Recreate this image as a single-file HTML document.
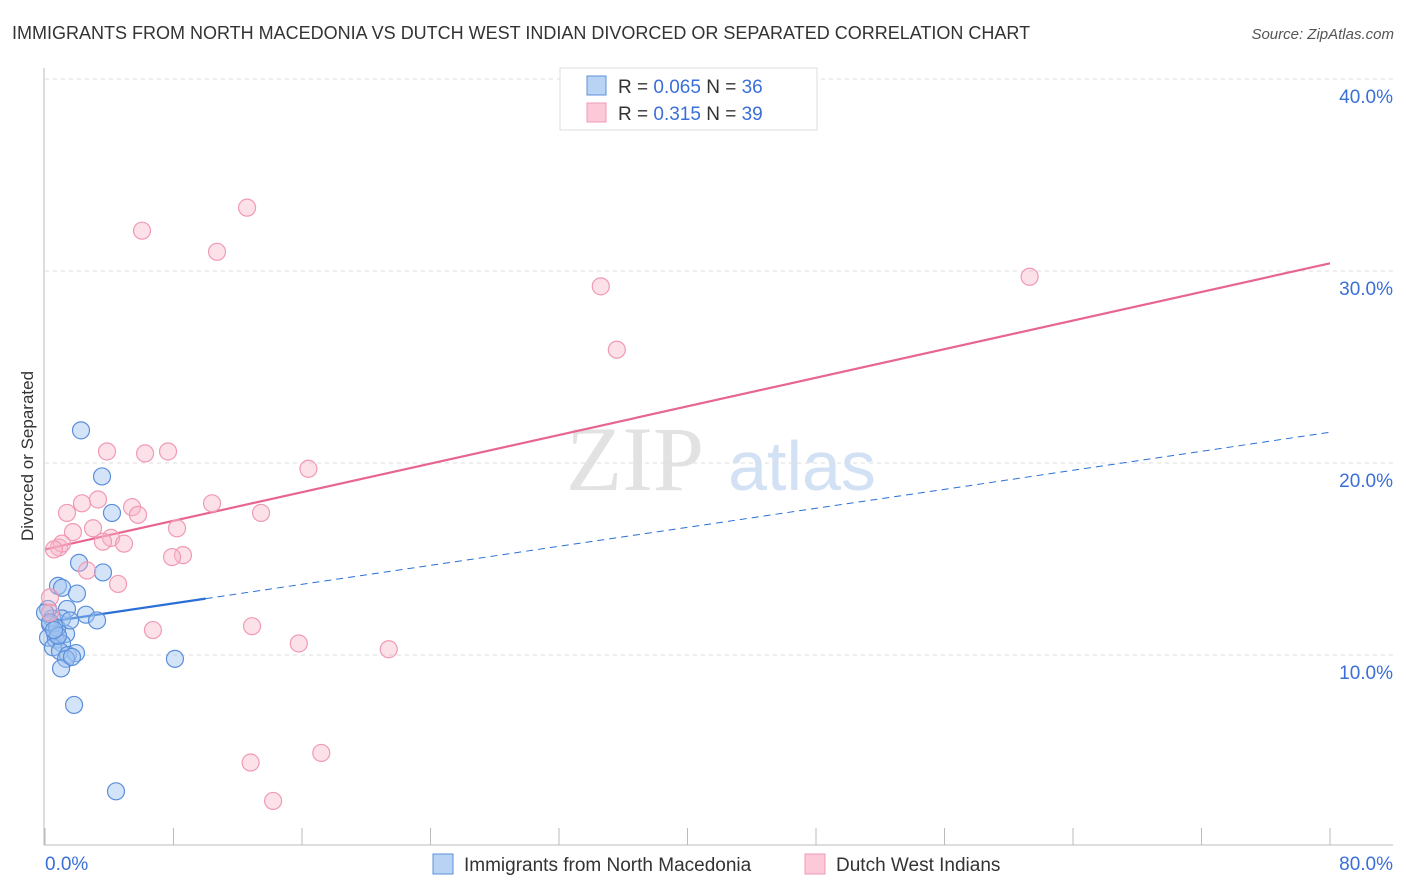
<!DOCTYPE html>
<html><head><meta charset="utf-8"><style>
body{margin:0;background:#fff;font-family:"Liberation Sans",sans-serif;}
#c{position:absolute;left:0;top:0}
</style></head><body>
<svg id="c" width="1406" height="892">
<text x="12" y="39" font-size="18" fill="#333">IMMIGRANTS FROM NORTH MACEDONIA VS DUTCH WEST INDIAN DIVORCED OR SEPARATED CORRELATION CHART</text>
<text x="1394" y="39" font-size="15" fill="#555" font-style="italic" text-anchor="end">Source: ZipAtlas.com</text>
<text x="33" y="456" font-size="17" fill="#333" text-anchor="middle" transform="rotate(-90 33 456)">Divorced or Separated</text>
<text x="635" y="490" font-size="92" fill="#e2e2e2" font-family="Liberation Serif,serif" text-anchor="middle">ZIP</text>
<text x="802" y="490" font-size="70" fill="#d3e1f5" text-anchor="middle">atlas</text>
<g id="grid"></g><g id="axes"></g><g id="lines"></g><g id="pts"></g>
<g>
<rect x="560" y="68" width="257" height="62" fill="#fff" stroke="#ddd"/>
<rect x="587" y="76" width="19" height="19" fill="#b9d3f5" stroke="#5b8fdb"/>
<rect x="587" y="103" width="19" height="19" fill="#fbc9d7" stroke="#f09ab5"/>
<text x="618" y="93" font-size="19" fill="#333">R = <tspan fill="#3a6fd8">0.065</tspan>   N = <tspan fill="#3a6fd8">36</tspan></text>
<text x="618" y="120" font-size="19" fill="#333">R =  <tspan fill="#3a6fd8">0.315</tspan>   N = <tspan fill="#3a6fd8">39</tspan></text>
</g>
<g>
<rect x="433" y="854" width="20" height="20" fill="#b9d3f5" stroke="#5b8fdb"/>
<text x="464" y="871" font-size="19" fill="#333">Immigrants from North Macedonia</text>
<rect x="805" y="854" width="20" height="20" fill="#fbc9d7" stroke="#f09ab5"/>
<text x="836" y="871" font-size="19" fill="#333">Dutch West Indians</text>
</g>
</svg>
<script>
const blueX=[2.24,3.55,4.17,2.12,3.61,0.81,1.06,1.99,0.19,1.37,2.55,3.24,0.44,1.06,0.31,0.62,1.31,0.19,0.68,1.06,0.50,0.93,1.43,1.93,1.31,8.09,1.00,1.81,4.42,0.0,0.31,0.75,1.56,0.81,0.56,1.68];
const blueY=[21.7,19.3,17.4,14.8,14.3,13.6,13.5,13.2,12.4,12.4,12.1,11.8,11.9,11.9,11.6,11.1,11.1,10.9,10.8,10.6,10.4,10.2,10.0,10.1,9.8,9.8,9.3,7.4,2.9,12.2,11.7,11.4,11.8,11.0,11.3,9.9];
const pinkX=[12.58,6.04,10.71,34.6,61.3,35.6,3.86,6.23,7.66,16.4,3.30,2.30,10.4,1.37,5.42,5.79,13.45,2.99,8.22,1.74,4.11,3.61,4.92,0.87,1.06,0.56,8.59,7.91,2.62,4.55,0.31,0.31,6.72,12.89,15.8,21.4,17.2,12.8,14.2];
const pinkY=[33.3,32.1,31.0,29.2,29.7,25.9,20.6,20.5,20.6,19.7,18.1,17.9,17.9,17.4,17.7,17.3,17.4,16.6,16.6,16.4,16.1,15.9,15.8,15.6,15.8,15.5,15.2,15.1,14.4,13.7,13.0,12.2,11.3,11.5,10.6,10.3,4.9,4.4,2.4];
const blueTrend=[11.7,21.6];
const pinkTrend=[15.5,30.4];
const yTicks=[10,20,30,40];
const yTickLabels=["10.0%","20.0%","30.0%","40.0%"];
const xTicks=[0,8,16,24,32,40,48,56,64,72,80];
const NS="http://www.w3.org/2000/svg";
const X=v=>45+v*(1285/80), Y=v=>847-v*19.2;
function mk(p,t,a){const e=document.createElementNS(NS,t);for(const k in a)e.setAttribute(k,a[k]);p.appendChild(e);return e;}
const grid=document.getElementById('grid'),axes=document.getElementById('axes'),lines=document.getElementById('lines'),pts=document.getElementById('pts');
yTicks.forEach((v,i)=>{
 const l=mk(grid,'line',{x1:45,x2:1393,y1:Y(v),y2:Y(v),stroke:'#ddd','stroke-dasharray':'4,4'});
 
 
 const t=mk(axes,'text',{x:1393,y:Y(v)+24,'font-size':19,fill:'#3a6fd8','text-anchor':'end'});
 t.textContent=yTickLabels[i];
 
 
});
const ax=mk(axes,'line',{x1:44,x2:44,y1:68,y2:845,stroke:'#bbb'});


const bx=mk(axes,'line',{x1:44,x2:1393,y1:845,y2:845,stroke:'#bbb'});


xTicks.forEach(v=>{const l=mk(axes,'line',{x1:X(v),x2:X(v),y1:828,y2:845,stroke:'#bbb'});
 
 });
const x0=mk(axes,'text',{x:45,y:870,'font-size':19,fill:'#3a6fd8'});x0.textContent='0.0%';


const x1=mk(axes,'text',{x:1393,y:870,'font-size':19,fill:'#3a6fd8','text-anchor':'end'});x1.textContent='80.0%';


blueX.forEach((v,i)=>{const c=mk(pts,'circle',{cx:X(v),cy:Y(blueY[i]),r:8.5,fill:'rgba(160,195,240,0.45)',stroke:'#5b8fdb','stroke-width':1.2});
 
 });
pinkX.forEach((v,i)=>{const c=mk(pts,'circle',{cx:X(v),cy:Y(pinkY[i]),r:8.5,fill:'rgba(248,180,200,0.4)',stroke:'#f09ab5','stroke-width':1.2});
 
 });
const bAt=v=>blueTrend[0]+(blueTrend[1]-blueTrend[0])*v/80;
const pl=mk(lines,'line',{x1:X(0),y1:Y(pinkTrend[0]),x2:X(80),y2:Y(pinkTrend[1]),stroke:'#e8658f','stroke-width':2.2});


const bs=mk(lines,'line',{x1:X(0),y1:Y(bAt(0)),x2:X(10),y2:Y(bAt(10)),stroke:'#2a6fd6','stroke-width':2.2});


const bd=mk(lines,'line',{x1:X(10),y1:Y(bAt(10)),x2:X(80),y2:Y(bAt(80)),stroke:'#2a6fd6','stroke-width':1,'stroke-dasharray':'7,5'});


</script>
</body></html>
